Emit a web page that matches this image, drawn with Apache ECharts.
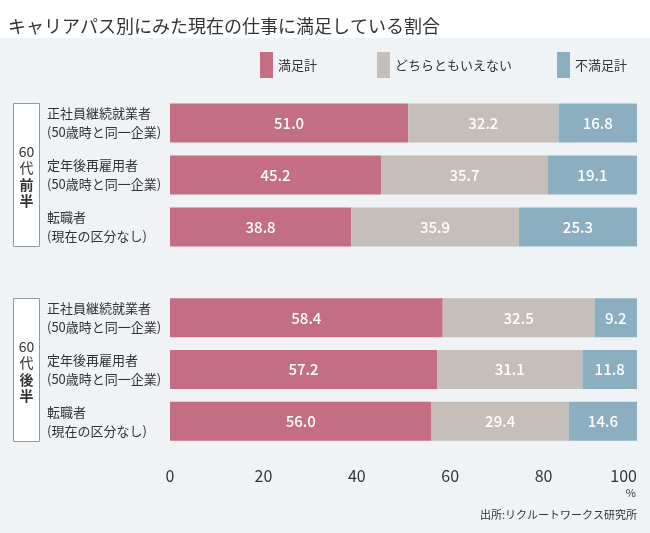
<!DOCTYPE html>
<html><head><meta charset="utf-8">
<script src="https://cdn.jsdelivr.net/npm/echarts@6/dist/echarts.min.js"></script>
<style>html,body{margin:0;padding:0;background:#fff}#c{width:650px;height:533px}</style>
</head><body><div id="c"></div>
<script>
const FONT = '"Noto Sans CJK JP","Noto Sans",sans-serif';
const title = 'キャリアパス別にみた現在の仕事に満足している割合';
const seriesNames = ['満足計', 'どちらともいえない', '不満足計'];
const colors = ['#c36e82', '#c6beb9', '#8bafc0'];
const categories = ['正社員継続就業者\n(50歳時と同一企業)', '定年後再雇用者\n(50歳時と同一企業)', '転職者\n(現在の区分なし)'];
const groupLabels = [['60', '代', '前', '半'], ['60', '代', '後', '半']];
// group 1: 60代前半
const g1Satisfied = [51.0, 45.2, 38.8];
const g1Neutral = [32.2, 35.7, 35.9];
const g1Dissatisfied = [16.8, 19.1, 25.3];
// group 2: 60代後半
const g2Satisfied = [58.4, 57.2, 56.0];
const g2Neutral = [32.5, 31.1, 29.4];
const g2Dissatisfied = [9.2, 11.8, 14.6];
const xTicks = [0, 20, 40, 60, 80, 100];
const source = '出所:リクルートワークス研究所';

const groups = [[g1Satisfied, g1Neutral, g1Dissatisfied], [g2Satisfied, g2Neutral, g2Dissatisfied]];
const grids = [
  {left: 170, width: 467, top: 97, height: 156},
  {left: 170, width: 467, top: 292, height: 155}
];
const xAxes = grids.map((g, i) => ({
  gridIndex: i, type: 'value', min: xTicks[0], max: xTicks[xTicks.length - 1], interval: xTicks[1] - xTicks[0],
  splitLine: {show: false}, axisLine: {show: false}, axisTick: {show: false},
  axisLabel: {show: i === 1, color: '#333', fontSize: 16, fontFamily: FONT, margin: 21, alignMaxLabel: 'right'}
}));
const yAxes = grids.map((g, i) => ({
  gridIndex: i, type: 'category', data: categories, inverse: true,
  axisLine: {show: false}, axisTick: {show: false},
  axisLabel: {align: 'left', margin: 123, color: '#333', fontSize: 13, lineHeight: 19, fontFamily: FONT}
}));
const series = [];
groups.forEach((grp, gi) => {
  grp.forEach((vals, si) => {
    series.push({
      name: seriesNames[si], type: 'bar', stack: 'g' + gi, xAxisIndex: gi, yAxisIndex: gi,
      barWidth: 39, data: vals,
      itemStyle: {color: colors[si]},
      label: {show: true, position: 'inside', color: '#fff', fontSize: 15, fontWeight: 500, fontFamily: FONT,
        formatter: p => p.value.toFixed(1)}
    });
  });
});
const groupText = (parts) => '{n|' + parts[0] + '}\n{n|' + parts[1] + '}\n{b|' + parts[2] + '}\n{b|' + parts[3] + '}';
const groupRich = {
  n: {fontSize: 14, lineHeight: 16.5, fill: '#333', fontFamily: FONT, align: 'center'},
  b: {fontSize: 14, lineHeight: 16.5, fill: '#333', fontFamily: FONT, fontWeight: 'bold', align: 'center'}
};
const legendLefts = [260, 377, 557];
const chart = echarts.init(document.getElementById('c'));
chart.setOption({
  animation: false,
  backgroundColor: '#fff',
  title: {text: title, left: 3, top: 12, textStyle: {fontSize: 18, fontWeight: 'normal', color: '#333', fontFamily: FONT}},
  legend: seriesNames.map((n, i) => ({
    data: [n], top: 52, left: legendLefts[i], padding: 0, itemWidth: 13, itemHeight: 26, itemGap: 0,
    icon: 'rect', textStyle: {fontSize: 13, color: '#333', fontFamily: FONT}
  })),
  grid: grids, xAxis: xAxes, yAxis: yAxes, series: series,
  graphic: [
    {type: 'rect', z: -10, shape: {x: 0, y: 38, width: 650, height: 495}, style: {fill: '#eff3f6'}},
    {type: 'rect', shape: {x: 13.5, y: 103.5, width: 26, height: 143}, style: {fill: '#fff', stroke: '#999', lineWidth: 1}},
    {type: 'rect', shape: {x: 13.5, y: 298.5, width: 26, height: 143}, style: {fill: '#fff', stroke: '#999', lineWidth: 1}},
    {type: 'text', x: 26.5, y: 176, style: {text: groupText(groupLabels[0]), rich: groupRich, align: 'center', verticalAlign: 'middle', fontSize: 14, fill: '#333', fontFamily: FONT}},
    {type: 'text', x: 26.5, y: 371, style: {text: groupText(groupLabels[1]), rich: groupRich, align: 'center', verticalAlign: 'middle', fontSize: 14, fill: '#333', fontFamily: FONT}},
    {type: 'text', x: 636, y: 493, style: {text: '%', align: 'right', verticalAlign: 'middle', fontSize: 11, fill: '#333', fontFamily: FONT}},
    {type: 'text', x: 637, y: 515, style: {text: source, align: 'right', verticalAlign: 'middle', fontSize: 11, fill: '#333', fontFamily: FONT}}
  ]
});
</script></body></html>
